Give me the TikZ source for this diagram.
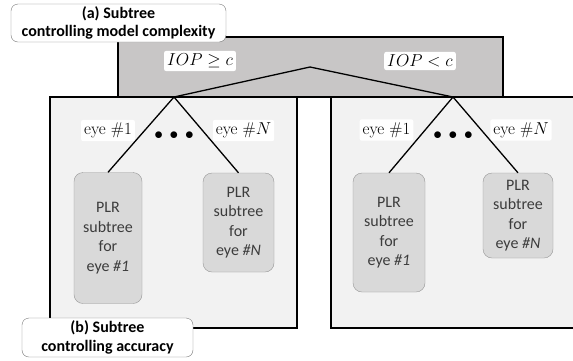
\documentclass[tikz,border=0pt]{standalone}
\usepackage{fontspec}
\setsansfont{Carlito}
\usepackage{tikz}
\usetikzlibrary{positioning}
\usepackage{xcolor}
\definecolor{topgray}{RGB}{200,198,198}
\definecolor{panelgray}{RGB}{242,242,242}
\definecolor{boxgray}{RGB}{217,217,217}
\definecolor{boxedge}{RGB}{150,150,150}
\definecolor{tagedge}{RGB}{120,120,120}
\definecolor{boxtext}{RGB}{60,60,60}

\begin{document}
\begin{tikzpicture}[x=1pt,y=-1pt,
    panel/.style={draw=black, line width=1.5pt, fill=panelgray},
    plrbox/.style={draw=boxedge, fill=boxgray, rounded corners=9pt, align=center,
        inner sep=2pt, text=boxtext, font=\sffamily\fontsize{16}{19.5}\selectfont},
    tagbox/.style={draw=tagedge, fill=white, rounded corners=7pt, align=center,
        inner sep=1pt, font=\sffamily\bfseries\fontsize{16}{18.5}\selectfont},
    branch/.style={fill=white, rounded corners=2pt, inner sep=3pt, font=\fontsize{17}{20}\selectfont},
    edge/.style={line width=1.3pt}
]

    \useasboundingbox (0,0) rectangle (573,360);
    \clip (0,0) rectangle (573,360);
    \fill[white] (0,0) rectangle (573,360);

    % Top box (a): the IOP split
    \draw[line width=1.5pt, fill=topgray] (118,37) rectangle (503,97);

    % Two panels (b), one for each side of the split
    \draw[panel] (50,97) rectangle (297,328);
    \draw[panel] (331,97) rectangle (590,328);

    % Branching points
    \coordinate (root) at (310,67);
    \coordinate (left) at (174,97);
    \coordinate (right) at (453,97);

    \draw[edge] (left) -- (root) -- (right);

    \node[branch, font=\fontsize{17}{20}\selectfont] (geq) at (200,61) {$IOP \geq c$};
    \node[branch, font=\fontsize{17}{20}\selectfont] (less) at (420,61) {$IOP < c$};

    % Left panel
    \node[plrbox, minimum width=68pt, minimum height=131pt] (lone) at (108,238)
        {PLR\\subtree\\for\\eye \textit{\#1}};
    \node[plrbox, minimum width=71pt, minimum height=99pt] (lnth) at (238.5,222.5)
        {PLR\\subtree\\for\\eye \textit{\#N}};
    \draw[edge] (lone.north) -- (left) -- (lnth.north);
    \node[branch] (eyelone) at (108,130.5) {eye \#1};
    \node[branch] (eyelnth) at (243.5,130.5) {eye \#$N$};
    \node[font=\fontsize{17}{20}\selectfont] (dotsl) at (174,136) {$\bullet\,\bullet\,\bullet$};

    % Right panel
    \node[plrbox, minimum width=72pt, minimum height=119pt] (rone) at (389,232.5)
        {PLR\\subtree\\for\\eye \textit{\#1}};
    \node[plrbox, minimum width=70pt, minimum height=85pt] (rnth) at (518,215.5)
        {PLR\\subtree\\for\\eye \textit{\#N}};
    \draw[edge] (rone.north) -- (right) -- (rnth.north);
    \node[branch] (eyerone) at (386.5,130) {eye \#1};
    \node[branch] (eyernth) at (521,130) {eye \#$N$};
    \node[font=\fontsize{17}{20}\selectfont] (dotsr) at (453,136) {$\bullet\,\bullet\,\bullet$};

    % Tags
    \node[tagbox, minimum width=215pt, minimum height=38pt] (taga) at (118.5,23)
        {(a) Subtree\\controlling model complexity};
    \node[tagbox, minimum width=171pt, minimum height=39pt] (tagb) at (107.5,337.5)
        {(b) Subtree\\controlling accuracy};

\end{tikzpicture}
\end{document}
